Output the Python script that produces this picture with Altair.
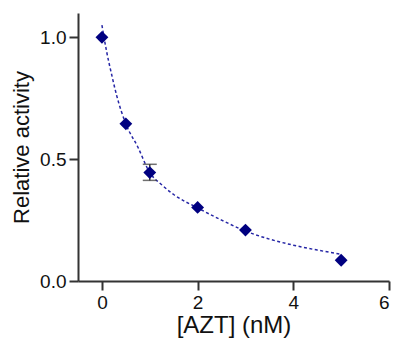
import altair as alt
import pandas as pd

# Measured data points
conc = [0, 0.5, 1, 2, 3, 5]
activity = [1.0, 0.645, 0.445, 0.302, 0.209, 0.085]

# Error bar (only visible one, at 1 nM)
err_x = [1]
err_lo = [0.413]
err_hi = [0.479]

# Fitted curve
fit_x = [0, 0.1, 0.2, 0.31, 0.5, 0.75, 1.0, 1.25, 1.5, 2.0, 2.5, 3.0, 3.5, 4.0, 4.5, 5.0]
fit_y = [1.05, 0.94, 0.85, 0.76, 0.645, 0.55, 0.445, 0.395, 0.355, 0.30, 0.25, 0.205, 0.172, 0.147, 0.127, 0.11]

# Axis ticks
x_ticks = [0, 2, 4, 6]
y_ticks = [0.0, 0.5, 1.0]

pts = pd.DataFrame({"conc": conc, "activity": activity})
errs = pd.DataFrame({"conc": err_x, "lo": err_lo, "hi": err_hi})
fit = pd.DataFrame({"conc": fit_x, "activity": fit_y})

FONT = "Liberation Sans"

x_scale = alt.Scale(domain=[-0.5, 6], nice=False, zero=False)
y_scale = alt.Scale(domain=[0, 1.1], nice=False)

x_axis = alt.Axis(values=x_ticks, title="[AZT] (nM)", format="d",
                  tickSize=9, labelPadding=3, titlePadding=1,
                  labelFontSize=19, titleFontSize=24)
y_axis = alt.Axis(values=y_ticks, title="Relative activity", format=".1f",
                  tickSize=9, labelPadding=3, titlePadding=6,
                  labelFontSize=19, titleFontSize=22)

line = alt.Chart(fit).mark_line(
    color="#2525a5", strokeWidth=1.5, strokeDash=[3, 2.5], interpolate="monotone"
).encode(
    x=alt.X("conc:Q", scale=x_scale, axis=x_axis),
    y=alt.Y("activity:Q", scale=y_scale, axis=y_axis),
)

rule = alt.Chart(errs).mark_rule(color="#333333", strokeWidth=1.5).encode(
    x=alt.X("conc:Q", scale=x_scale),
    y=alt.Y("lo:Q", scale=y_scale),
    y2="hi:Q",
)
cap_lo = alt.Chart(errs).mark_tick(color="#333333", thickness=1.5, size=14,
                                   orient="horizontal").encode(
    x=alt.X("conc:Q", scale=x_scale),
    y=alt.Y("lo:Q", scale=y_scale),
)
cap_hi = alt.Chart(errs).mark_tick(color="#333333", thickness=1.5, size=14,
                                   orient="horizontal").encode(
    x=alt.X("conc:Q", scale=x_scale),
    y=alt.Y("hi:Q", scale=y_scale),
)

points = alt.Chart(pts).mark_point(
    shape="diamond", filled=True, size=165, color="#000080", opacity=1
).encode(
    x=alt.X("conc:Q", scale=x_scale),
    y=alt.Y("activity:Q", scale=y_scale),
)

chart = alt.layer(line, rule, cap_lo, cap_hi, points).properties(
    width=311, height=268,
    autosize=alt.AutoSizeParams(type="none"),
    padding={"left": 70, "top": 5, "right": 4, "bottom": 58},
).configure_view(stroke=None).configure_axis(
    grid=False,
    domainColor="#333333", domainWidth=2,
    tickColor="#333333", tickWidth=2,
    labelFont=FONT, titleFont=FONT,
    labelColor="#111111", titleColor="#111111",
    titleFontWeight="normal",
)

chart.save("out.html", embed_options={"renderer": "svg", "actions": False})
